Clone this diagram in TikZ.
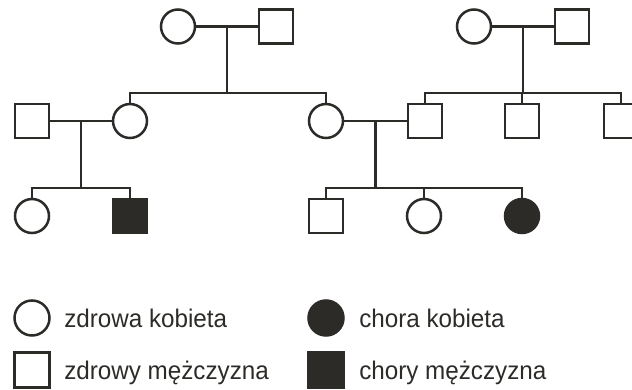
\documentclass[tikz,border=0pt]{standalone}
\usepackage{fontspec}
\newfontfamily\legendfont[FakeStretch=0.95]{Liberation Sans}
\usepackage{tikz}
\usetikzlibrary{calc}
\definecolor{pedgray}{HTML}{2D2B28}

\begin{document}
\begin{tikzpicture}[x=1pt,y=-1pt,line width=2.5pt,pedgray,
		kobieta/.style={circle,draw,minimum size=34pt,inner sep=0pt},
		mezczyzna/.style={rectangle,draw,minimum size=34pt,inner sep=0pt},
		chora/.style={kobieta,fill=pedgray},
		chory/.style={mezczyzna,fill=pedgray},
		opis/.style={anchor=base west,inner sep=0pt,font=\legendfont\fontsize{25.5}{30}\selectfont}]
			\useasboundingbox (0,0) rectangle (632,390);
			\clip (0,0) rectangle (632,390);
			
			% pokolenie I
			\node[kobieta] (k1) at (178,26.5) {};
			\node[mezczyzna] (m1) at (276,26.5) {};
			\node[kobieta] (k2) at (474,26.5) {};
			\node[mezczyzna] (m2) at (572,26.5) {};
			
			% pokolenie II
			\node[mezczyzna] (m3) at (32,121) {};
			\node[kobieta] (k3) at (130,121) {};
			\node[kobieta] (k4) at (326,121) {};
			\node[mezczyzna] (m4) at (425,121) {};
			\node[mezczyzna] (m5) at (522,121) {};
			\node[mezczyzna] (m6) at (621,121) {};
			
			% pokolenie III
			\node[kobieta] (k5) at (32,216) {};
			\node[chory] (m7) at (130,216) {};
			\node[mezczyzna] (m8) at (326,216) {};
			\node[kobieta] (k6) at (424,216) {};
			\node[chora] (k7) at (522,216) {};
			
			% pary i rodzenstwo
			\foreach \a/\b/\n/\y in {k1/m1/1/93, k2/m2/2/93, m3/k3/3/188, k4/m4/4/188}{
				\draw (\a.east) -- (\b.west);
				\coordinate (para\n) at ($(\a.east)!0.5!(\b.west)$);
				\coordinate (rodz\n) at (para\n |- 0,\y);
				\draw (para\n) -- (rodz\n);
			}
			\foreach \c/\n in {k3/1, k4/1, m4/2, m5/2, m6/2, k5/3, m7/3, m8/4, k6/4, k7/4}{
				\draw (\c.north) |- (rodz\n);
			}
			
			% legenda
			\node[kobieta,minimum size=35pt] (lk1) at (32,318) {};
			\node[opis] (lt1) at (63,327) {zdrowa kobieta};
			\node[mezczyzna,minimum size=35pt] (lm1) at (32,370) {};
			\node[opis] (lt2) at (63,379) {zdrowy mężczyzna};
			\node[chora,minimum size=35pt] (lk2) at (326,318) {};
			\node[opis] (lt3) at (358,327) {chora kobieta};
			\node[chory,minimum size=35pt] (lm2) at (326,370) {};
			\node[opis] (lt4) at (358,379) {chory mężczyzna};
		\end{tikzpicture}
\end{document}
